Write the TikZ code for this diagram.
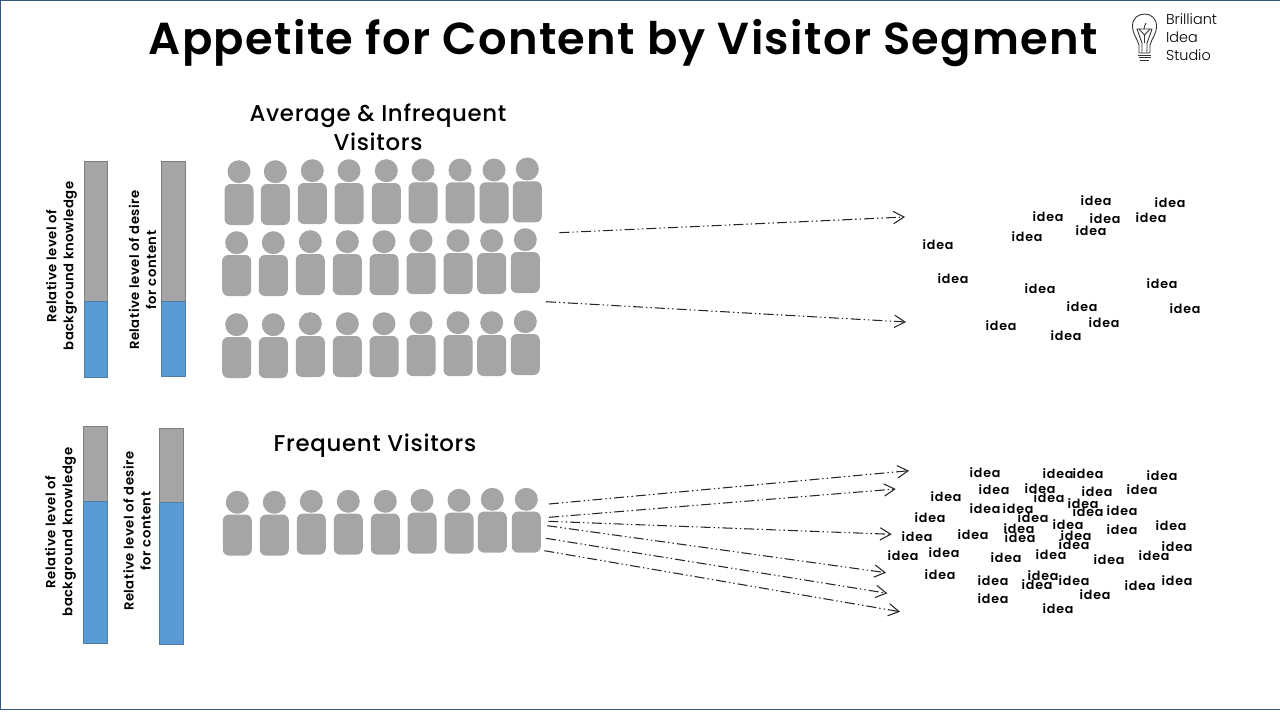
\documentclass[tikz,border=0pt]{standalone}
\usepackage{fontspec}
\usepackage{xcolor}
\usetikzlibrary{arrows.meta}
\setmainfont{Poppins}
\newfontfamily\titlefont[LetterSpace=3]{Poppins SemiBold}
\newfontfamily\headfont[LetterSpace=3]{Poppins Medium}
\newfontfamily\barfont[LetterSpace=4]{Poppins SemiBold}
\newfontfamily\ideafont[LetterSpace=6]{Poppins SemiBold}
\newfontfamily\logofont{Poppins Light}
\definecolor{personGray}{HTML}{A5A5A5}
\definecolor{barBlue}{HTML}{5B9BD5}
\definecolor{barBlueEdge}{HTML}{4F7CA8}
\definecolor{barGrayEdge}{HTML}{7F7F7F}
\definecolor{frameBlue}{HTML}{34587F}

\begin{document}
\begin{tikzpicture}[x=0.02cm,y=-0.02cm]
    \tikzstyle{every node}=[inner sep=0pt,outer sep=0pt]
    \tikzstyle{head}=[font=\headfont\fontsize{13}{16.5}\selectfont,align=center]
    \tikzstyle{barlabel}=[font=\barfont\fontsize{7.5}{9.8}\selectfont,align=center,rotate=90]
    \tikzstyle{idealabel}=[font=\ideafont\fontsize{7.2}{9}\selectfont]
    \tikzstyle{flow}=[line width=0.6pt,black!85,dash pattern=on 5.7pt off 1.7pt on 0.8pt off 1.7pt on 0.8pt off 1.7pt,-{Straight Barb[length=6pt,width=7pt,line width=0.6pt]}]
    \tikzstyle{bulb}=[line width=0.5pt,black!80,line join=round]

    \useasboundingbox (0,0) rectangle (1280,720);
    \draw[frameBlue,line width=0.8pt] (1280,709.5) -- (0.5,709.5) -- (0.5,0.5) -- (1280,0.5);

    % title and logo
    \node[font=\titlefont\fontsize{25.5}{30}\selectfont,anchor=base] (title) at (623.5,54) {Appetite for Content by Visitor Segment};
    \node[font=\logofont\fontsize{8.2}{10.3}\selectfont,align=left,anchor=west] (logo) at (1166,37) {Brilliant\\Idea\\Studio};
    \draw[bulb] (1139,45) .. controls (1137,38) and (1132.5,34) .. (1132.5,26)
       .. controls (1132.5,10) and (1156.5,10) .. (1156.5,26)
       .. controls (1156.5,34) and (1152,38) .. (1150,45) -- (1150,53) -- (1139,53) -- cycle;
    \draw[bulb] (1142,53) -- (1142,43) -- (1137,29) -- (1152,29) -- (1147,43) -- (1147,53);
    \draw[bulb] (1139,29) -- (1144.5,35) -- (1150,29);
    \draw[bulb] (1144.5,35) -- (1144.5,43);
    \draw[bulb] (1144,29) .. controls (1143,26) and (1146,26) .. (1146,23);
    \draw[bulb] (1138,55) -- (1151,55) (1138.5,57.5) -- (1150.5,57.5) (1140,60) -- (1149,60);

    % knowledge and desire bars
    \newcommand{\levelbar}[5]{%
      \draw[barGrayEdge,fill=personGray] (#1,#2) rectangle (#1+23.5,#3);
      \draw[barBlueEdge,fill=barBlue] (#1,#3) rectangle (#1+23.5,#4);
      \coordinate (#5) at (#1,#3);}
    \levelbar{84}{161.5}{301}{377}{barA}
    \levelbar{161.5}{161.5}{301}{376}{barB}
    \levelbar{83.5}{426.5}{501.5}{643.5}{barC}
    \levelbar{159.5}{428.5}{502.5}{644.5}{barD}

    \node[barlabel] (knowA) at (61.5,266) {Relative level of\\background knowledge};
    \node[barlabel] (wishA) at (142.5,270) {Relative level of desire\\for content};
    \node[barlabel] (knowB) at (60.5,532) {Relative level of\\background knowledge};
    \node[barlabel] (wishB) at (137,531) {Relative level of desire\\for content};

    % visitors
    \node[head] (avg) at (378,127.5) {Average \& Infrequent\\Visitors};
    \node[head] (freq) at (375,446) {Frequent Visitors};

    \newcommand{\person}[2]{%
      \fill[personGray] (#1,#2) circle (11.5);
      \fill[personGray,rounded corners=3.5pt] (#1-14.5,#2+12.3) rectangle (#1+14.5,#2+53.3);}

    \foreach \x/\y in {239/171.7,275.3/171.7,312.3/170.7,349/170.7,386.3/170.7,423/170,460/170,494/170,527.3/169}{\person{\x}{\y}}
    \foreach \x/\y in {236.7/242.7,273.3/242.7,310.3/241.7,347.3/241.7,384/241.7,421/240.7,458/240.7,491.7/240.7,525.3/239.7}{\person{\x}{\y}}
    \foreach \x/\y in {236.7/324.7,273.3/324.7,310.3/323.7,347.3/323.7,384/323.7,421/322.7,458/322.7,491.7/322.7,525.3/321.7}{\person{\x}{\y}}
    \foreach \x/\y in {237.3/502.3,274.3/502.3,311.3/501.3,348.3/501.3,385.3/501.3,422/500.3,459/500.3,492.3/499.3,526.3/499.3}{\person{\x}{\y}}

    % arrows
    \foreach \a/\b/\c/\d/\n in {559.3/232.7/905/217/1,546/301.7/906/322/2,549/504/909/470.7/3,549/517.3/895.7/489/4,548.3/521.3/891.7/534.3/5,547.3/525.7/886/572.7/6,546/538.3/887.3/593.3/7,544.3/550.7/900/611.7/8}{
      \coordinate (from\n) at (\a,\b);
      \coordinate (to\n) at (\c,\d);
      \draw[flow] (from\n) -- (to\n);}

    % ideas
    \foreach \x/\y in {1096/200,1170/202,1048/216,1105/218,1151/217,1091/230,1027/236,938/244,953/278,1162/283,1040/288,1082/306,1185/308,1104/322,1001/325,1066/335,
      985/472,1058/473,1088/473,1162/475,994/489,1040/488,1097/491,1142/489,946/496,1049/497,1083/503,985/508,1018/508,1088/511,1122/510,930/517,1033/517,1068/524,1019/528,1122/529,1171/525,917/536,973/534,1020/537,1076/535,1074/544,1177/546,903/555,944/552,1006/557,1051/554,1109/559,1154/555,940/574,993/580,1043/575,1037/584,1074/580,1140/585,1177/580,993/598,1095/594,1058/608}{
      \node[idealabel] at (\x,\y+1) {idea};}
  \end{tikzpicture}
\end{document}
